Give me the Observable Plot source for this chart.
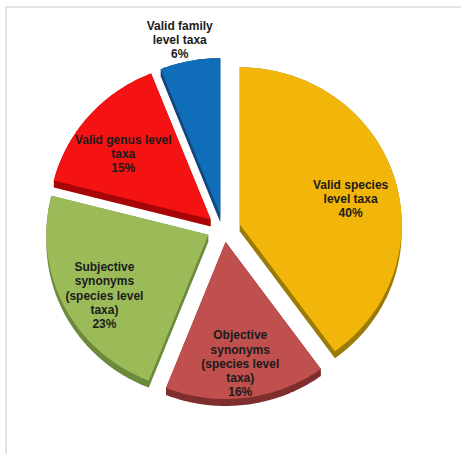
<!DOCTYPE html>
<html>
<head>
<meta charset="utf-8">
<script src="https://cdn.jsdelivr.net/npm/d3@7"></script>
<script src="https://cdn.jsdelivr.net/npm/@observablehq/plot@0.6"></script>
<style>
html, body { margin: 0; padding: 0; background: #fff; }
#wrap { position: relative; width: 461px; height: 454px; overflow: hidden; }
#wrap svg { position: absolute; left: 0; top: 0; }
#frame { position: absolute; left: 5px; top: 6px; right: 0; bottom: 0;
  border-top: 2px solid #e4e4e0; border-left: 2px solid #e4e4e0; pointer-events: none; }
</style>
</head>
<body>
<div id="wrap"><div id="frame"></div></div>
<script>
// ---- data ----
const categories = [
  "Valid species level taxa",
  "Objective synonyms (species level taxa)",
  "Subjective synonyms (species level taxa)",
  "Valid genus level taxa",
  "Valid family level taxa"
];
const labels = [
  "Valid species\nlevel taxa",
  "Objective\nsynonyms\n(species level\ntaxa)",
  "Subjective\nsynonyms\n(species level\ntaxa)",
  "Valid genus level\ntaxa",
  "Valid family\nlevel taxa"
];
const percents = [40, 16, 23, 15, 6];
const colors = ["#F1B609", "#C0504D", "#9BBB59", "#F51212", "#0F6DB9"];
const sideColors = ["#9C7A08", "#7E2E2C", "#6C8A3C", "#A80606", "#15447A"];

// ---- layout ----
const W = 461, H = 454;
const CX = 223, CY = 228, RX = 162, RY = 157;
const EXPLODE = 17, TILT = 0.8, DEPTH = 7;

const rows = categories.map((c, i) => ({
  category: c, label: labels[i] + "\n" + percents[i] + "%",
  value: percents[i], fill: colors[i], side: sideColors[i]
}));

const arcs = d3.pie().sort(null).value(d => d.value)(rows);
const slices = arcs.map(a => {
  const am = (a.startAngle + a.endAngle) / 2;
  const ox = EXPLODE * Math.sin(am), oy = -EXPLODE * TILT * Math.cos(am);
  const n = Math.max(8, Math.ceil((a.endAngle - a.startAngle) / (Math.PI / 180)));
  const pts = [[ox, oy]];
  for (let k = 0; k <= n; k++) {
    const t = a.startAngle + (a.endAngle - a.startAngle) * k / n;
    pts.push([ox + RX * Math.sin(t), oy - RY * Math.cos(t)]);
  }
  pts.push([ox, oy]);
  const hull = d3.polygonHull(pts.concat(pts.map(([x, y]) => [x, y + DEPTH])));
  hull.push(hull[0]);
  const outside = a.data.value < 10;
  const f = outside ? 1.14 : 0.72;
  return {
    ...a.data, pts, hull, outside,
    lx: ox + f * RX * Math.sin(am),
    ly: oy - f * RY * Math.cos(am)
  };
});

const marks = [];
for (const s of slices) {
  marks.push(Plot.line(s.hull, {x: d => d[0], y: d => d[1], fill: s.side, stroke: "none", curve: "linear"}));
}
for (const s of slices) {
  marks.push(Plot.line(s.pts, {x: d => d[0], y: d => d[1], fill: s.fill, stroke: "none", curve: "linear"}));
}
const textOpts = {
  x: "lx", y: "ly", text: "label",
  fontSize: 12, fontWeight: "bold", fontFamily: "'Liberation Sans', Arial, sans-serif",
  fill: "#1b1b1b", lineHeight: 1.18, textAnchor: "middle"
};
marks.push(Plot.text(slices.filter(s => !s.outside), {...textOpts, dy: 9}));
marks.push(Plot.text(slices.filter(s => s.outside), {...textOpts, dx: -6}));

const chart = Plot.plot({
  width: W, height: H,
  margin: 0,
  x: {domain: [-CX, W - CX], range: [0, W], axis: null},
  y: {domain: [-CY, H - CY], range: [0, H], axis: null},
  style: {background: "transparent", overflow: "visible"},
  marks
});
document.getElementById("wrap").insertBefore(chart, document.getElementById("frame"));
</script>
</body>
</html>
